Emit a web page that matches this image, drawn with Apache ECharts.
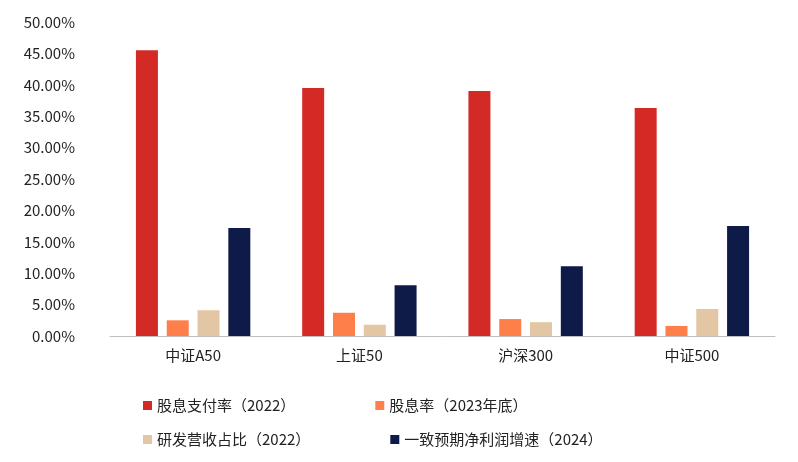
<!DOCTYPE html>
<html>
<head>
<meta charset="utf-8">
<script src="https://cdn.jsdelivr.net/npm/echarts@6/dist/echarts.min.js"></script>
<style>html,body{margin:0;padding:0;background:#fff}#chart{width:798px;height:462px}</style>
</head>
<body>
<div id="chart"></div>
<script>
var categories = ['中证A50', '上证50', '沪深300', '中证500'];
var payoutRatio = [45.5, 39.5, 39.0, 36.3];
var dividendYield = [2.5, 3.7, 2.7, 1.6];
var rdRatio = [4.1, 1.8, 2.2, 4.3];
var profitGrowth = [17.2, 8.1, 11.1, 17.5];
var yTicks = [0, 5, 10, 15, 20, 25, 30, 35, 40, 45, 50];

var font = 'Noto Sans CJK SC, Liberation Sans, sans-serif';
var myChart = echarts.init(document.getElementById('chart'));

function bar(name, data, color) {
    return {name: name, type: 'bar', data: data, barWidth: 22, barGap: '40%',
        itemStyle: {color: color}};
}

var legendBase = {
    icon: 'rect', itemWidth: 9, itemHeight: 9, itemGap: 80,
    textStyle: {fontSize: 15, color: '#222', fontFamily: font}
};

option = {
    animation: false,
    grid: {left: 110, right: 23, top: 22, bottom: 126},
    legend: [
        Object.assign({left: 138, top: 393, data: ['股息支付率（2022）', '股息率（2023年底）'], itemGap: 95}, legendBase),
        Object.assign({left: 138, top: 427, data: ['研发营收占比（2022）', '一致预期净利润增速（2024）'], itemGap: 80}, legendBase)
    ],
    xAxis: {
        type: 'category', data: categories,
        axisTick: {show: false},
        axisLine: {lineStyle: {color: '#bfbfbf'}},
        axisLabel: {fontSize: 15, color: '#222', fontFamily: font, margin: 12}
    },
    yAxis: {
        type: 'value', min: 0, max: 50, interval: 5,
        splitLine: {show: false},
        axisLine: {show: false},
        axisLabel: {fontSize: 15, color: '#222', fontFamily: font, margin: 35,
            formatter: function (v) { return v.toFixed(2) + '%'; }}
    },
    series: [
        bar('股息支付率（2022）', payoutRatio, '#d42a26'),
        bar('股息率（2023年底）', dividendYield, '#ff7f4b'),
        bar('研发营收占比（2022）', rdRatio, '#e3c7a4'),
        bar('一致预期净利润增速（2024）', profitGrowth, '#0e1a48')
    ]
};
myChart.setOption(option);
</script>
</body>
</html>
